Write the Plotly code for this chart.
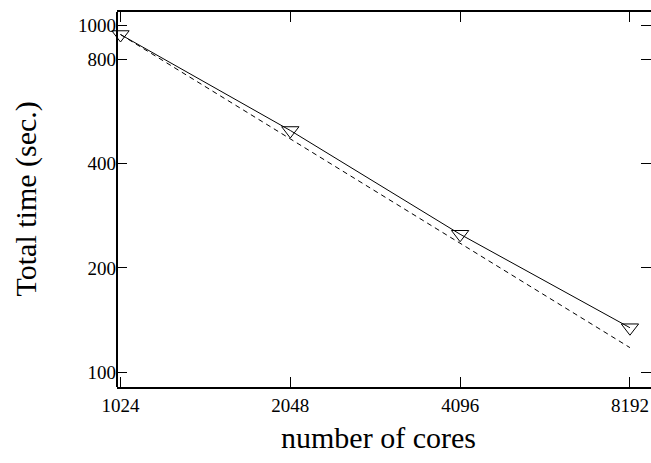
import plotly.graph_objects as go

cores = [1024, 2048, 4096, 8192]
total_time = [942, 498, 250, 134.4]
ideal_time = [942, 471, 235.5, 117.75]

x_ticks = [1024, 2048, 4096, 8192]
y_ticks = [100, 200, 400, 800, 1000]

FONT = "Liberation Serif"

fig = go.Figure()
fig.add_trace(go.Scatter(
    x=cores, y=ideal_time, mode="lines",
    line=dict(color="black", width=1, dash="5px,4px"),
    showlegend=False, hoverinfo="skip"))
fig.add_trace(go.Scatter(
    x=cores, y=total_time, mode="lines+markers",
    line=dict(color="black", width=1),
    marker=dict(symbol="triangle-down-open", size=15, color="black",
                line=dict(width=1, color="black")),
    showlegend=False, cliponaxis=False))

fig.update_layout(
    width=651, height=463,
    margin=dict(l=117, r=0, t=12, b=76),
    paper_bgcolor="white", plot_bgcolor="white",
    font=dict(family=FONT, size=19, color="black"),
    xaxis=dict(type="log", range=[3.0041, 3.9507],
               tickvals=x_ticks, ticktext=[str(v) for v in x_ticks],
               ticks="inside", ticklen=10, tickwidth=1, tickcolor="black",
               showline=True, linewidth=2, linecolor="black", mirror="ticks",
               showgrid=False, zeroline=False,
               tickfont=dict(family=FONT, size=19, color="black")),
    yaxis=dict(type="log", range=[1.9574, 3.039],
               tickvals=y_ticks, ticktext=[str(v) for v in y_ticks],
               ticks="inside", ticklen=10, tickwidth=1, tickcolor="black",
               showline=False, mirror="ticks",
               showgrid=False, zeroline=False,
               tickfont=dict(family=FONT, size=19, color="black")),
    shapes=[dict(type="line", xref="paper", yref="paper", x0=0, x1=0, y0=0, y1=1,
                 line=dict(color="black", width=2))],
    annotations=[
        dict(text="number of cores", xref="paper", yref="paper", x=0.489, y=0,
             xanchor="center", yanchor="middle", yshift=-50, showarrow=False,
             font=dict(family=FONT, size=30, color="black")),
        dict(text="Total time (sec.)", xref="paper", yref="paper", x=0, y=0.5,
             xanchor="center", yanchor="middle", xshift=-92, textangle=-90,
             showarrow=False, font=dict(family=FONT, size=30, color="black")),
    ],
)

fig.write_html("out.html")
